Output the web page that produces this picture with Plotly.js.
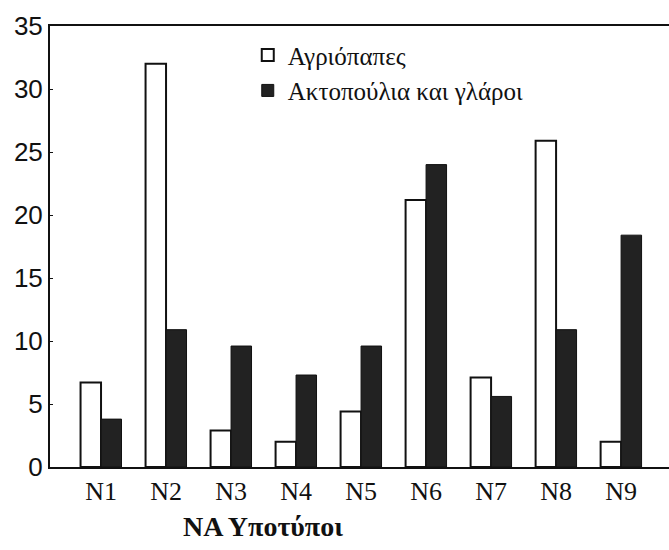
<!DOCTYPE html>
<html>
<head>
<meta charset="utf-8">
<script src="https://cdn.plot.ly/plotly-3.0.1.min.js"></script>
<style>
html, body { margin: 0; padding: 0; overflow: hidden; background: #fff; width: 669px; height: 550px; }
#chart { width: 700px; height: 550px; }
</style>
</head>
<body>
<div id="chart"></div>
<script>
const categories = ["N1", "N2", "N3", "N4", "N5", "N6", "N7", "N8", "N9"];
const seriesNames = ["Αγριόπαπες", "Ακτοπούλια και γλάροι"];
const agriopapes = [6.7, 32.0, 2.9, 2.0, 4.4, 21.2, 7.1, 25.9, 2.0];
const aktopoulia = [3.8, 10.9, 9.6, 7.3, 9.6, 24.0, 5.6, 10.9, 18.4];
const yTicks = [0, 5, 10, 15, 20, 25, 30, 35];
const xTitle = "ΝΑ Υποτύποι";

const traces = [
  {
    type: "bar", x: categories, y: agriopapes, name: seriesNames[0],
    marker: { color: "#ffffff", line: { color: "#111111", width: 2 } }
  },
  {
    type: "bar", x: categories, y: aktopoulia, name: seriesNames[1],
    marker: { color: "#222222", line: { color: "#111111", width: 1 } }
  }
];

const layout = {
  width: 700, height: 550,
  margin: { l: 50, r: 10, t: 26, b: 83 },
  paper_bgcolor: "#ffffff", plot_bgcolor: "#ffffff",
  barmode: "group", bargap: 0.37, bargroupgap: 0,
  showlegend: true,
  legend: {
    x: 0.309, y: 0.986, xanchor: "left", yanchor: "top",
    bgcolor: "rgba(0,0,0,0)",
    font: { family: "Liberation Serif, serif", size: 25, color: "#111" },
    tracegroupgap: 0, itemwidth: 30
  },
  xaxis: {
    type: "category",
    range: [-0.785, 9.06],
    showline: true, linecolor: "#111", linewidth: 2, mirror: true,
    ticks: "", showgrid: false, zeroline: false,
    tickfont: { family: "Liberation Serif, serif", size: 26, color: "#111" }
  },
  yaxis: {
    range: [0, 35], tickvals: yTicks,
    showline: true, linecolor: "#111", linewidth: 2,
    ticks: "inside", ticklen: 3, tickcolor: "#111",
    showgrid: false, zeroline: false,
    tickfont: { family: "Liberation Sans, sans-serif", size: 26, color: "#111" }
  },
  annotations: [
    {
      text: "<b>" + xTitle + "</b>", xref: "paper", yref: "paper",
      x: 0.333, y: -0.135, xanchor: "center", yanchor: "middle", showarrow: false,
      font: { family: "Liberation Serif, serif", size: 28, color: "#111" }
    }
  ]
};

Plotly.newPlot("chart", traces, layout, { displayModeBar: false, staticPlot: true });
</script>
</body>
</html>
